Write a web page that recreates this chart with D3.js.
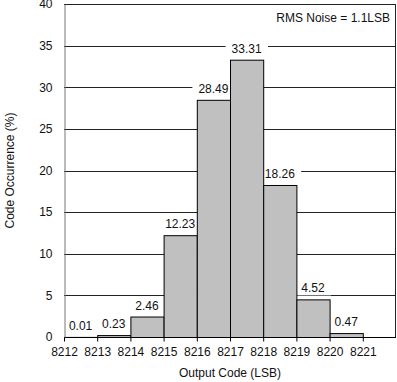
<!DOCTYPE html>
<html><head><meta charset="utf-8">
<script src="https://cdn.jsdelivr.net/npm/d3@7"></script>
<style>body{margin:0;background:#fff}svg{display:block}text{font-family:"Liberation Sans",Arial,sans-serif;}</style>
</head><body>
<script>
const codes = [8212,8213,8214,8215,8216,8217,8218,8219,8220];
const occurrence = [0.01,0.23,2.46,12.23,28.49,33.31,18.26,4.52,0.47];
const xTicks = [8212,8213,8214,8215,8216,8217,8218,8219,8220,8221];
const yTicks = [0,5,10,15,20,25,30,35,40];

const W=397,H=382;
const m={l:64,r:1,t:4,b:45};
const svg=d3.select("body").append("svg").attr("width",W).attr("height",H);
const x=d3.scaleLinear().domain([8212,8222]).range([m.l,W-m.r]);
const y=d3.scaleLinear().domain([0,40]).range([H-m.b,m.t]);

// gridlines
svg.append("g").selectAll("line").data(yTicks.slice(1)).join("line")
 .attr("x1",x(8212)).attr("x2",x(8222)).attr("y1",d=>Math.round(y(d))+0.5).attr("y2",d=>Math.round(y(d))+0.5)
 .attr("stroke","#222").attr("stroke-width",1);
// right border
svg.append("line").attr("x1",x(8222)-0.5).attr("x2",x(8222)-0.5).attr("y1",y(40)).attr("y2",y(0)).attr("stroke","#222");

// bar labels with white background (drawn beneath bars)
const lg=svg.append("g");
codes.forEach((c,i)=>{
  const cx=(x(c)+x(c+1))/2, by=y(occurrence[i])-7;
  const t=lg.append("text").attr("x",cx).attr("y",by).attr("text-anchor","middle").attr("font-size",12).attr("fill","#111").text(occurrence[i].toFixed(2));
  const bb=t.node().getBBox();
  lg.insert("rect",()=>t.node()).attr("x",bb.x-6).attr("y",bb.y).attr("width",bb.width+12).attr("height",bb.height).attr("fill","#fff");
});

// bars
svg.append("g").selectAll("rect").data(codes).join("rect")
 .attr("x",(d)=>x(d)+0.5).attr("width",d=>x(d+1)-x(d))
 .attr("y",(d,i)=>y(occurrence[i])+0.5).attr("height",(d,i)=>Math.max(0,y(0)-y(occurrence[i])))
 .attr("fill","#c0c0c0").attr("stroke","#000").attr("stroke-width",1);

// axes
const xa=svg.append("g").attr("transform",`translate(0,${Math.round(y(0))+0.5})`)
 .call(d3.axisBottom(x).tickValues(xTicks).tickFormat(d3.format("d")).tickSize(4).tickPadding(6));
xa.select(".domain").attr("stroke","#000").attr("d",`M${x(8212)},0H${x(8222)}`);
xa.selectAll("text").attr("font-size",12).attr("fill","#111").attr("font-family","Liberation Sans, Arial, sans-serif");
xa.selectAll(".tick line").attr("stroke","#000");

const ya=svg.append("g").attr("transform",`translate(${m.l+0.5},0)`)
 .call(d3.axisLeft(y).tickValues(yTicks).tickSize(0).tickPadding(12));
ya.select(".domain").attr("stroke","#777");
ya.selectAll("text").attr("font-size",12).attr("fill","#111").attr("font-family","Liberation Sans, Arial, sans-serif");

svg.append("text").attr("x",390).attr("y",22).attr("text-anchor","end").attr("font-size",12).attr("fill","#111").text("RMS Noise = 1.1LSB");
svg.append("text").attr("x",(x(8212)+x(8222))/2).attr("y",377).attr("text-anchor","middle").attr("font-size",12).attr("fill","#111").text("Output Code (LSB)");
svg.append("text").attr("transform",`translate(14,${(y(0)+y(40))/2}) rotate(-90)`).attr("text-anchor","middle").attr("font-size",12).attr("fill","#111").text("Code Occurrence (%)");
</script>
</body></html>
